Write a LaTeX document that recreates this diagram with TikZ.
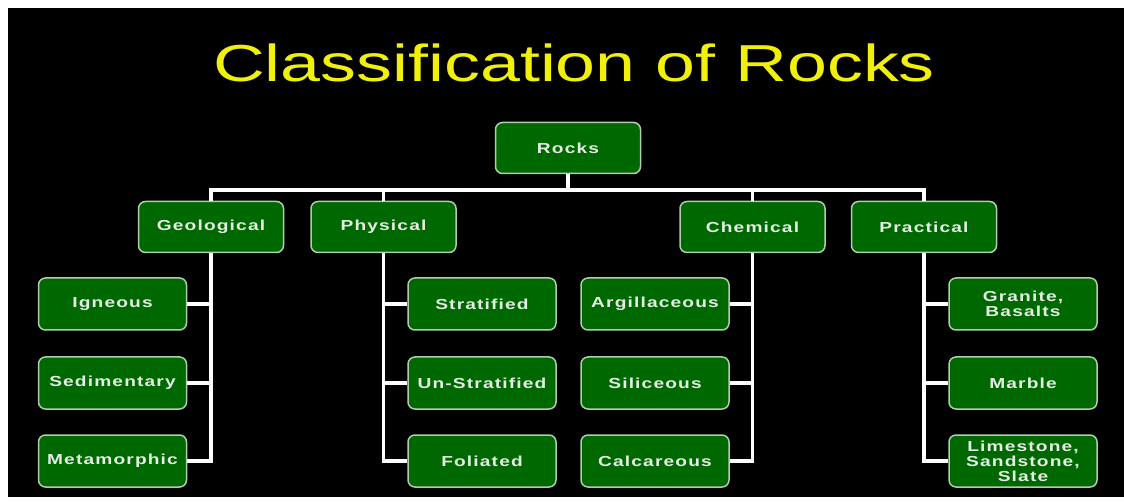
\documentclass[tikz,border=0pt]{standalone}
\usepackage{fontspec}
\setmainfont{Liberation Sans}
\newfontfamily\titlefont[FakeStretch=1.38]{Liberation Sans}
\newfontfamily\boxfont[FakeStretch=1.32,LetterSpace=8]{Liberation Sans}
\definecolor{boxgreen}{RGB}{0,104,0}
\definecolor{boxedge}{RGB}{175,205,175}
\definecolor{boxtext}{RGB}{228,236,228}
\definecolor{titleyellow}{RGB}{240,240,10}
\tikzset{
  rockbox/.style={draw=boxedge, line width=1.5pt, fill=boxgreen, rounded corners=7pt,
    minimum width=145pt, minimum height=51pt, inner sep=1pt, align=center,
    text=boxtext, font=\boxfont\bfseries\fontsize{14.5}{15}\selectfont},
  leafbox/.style={rockbox, minimum width=148pt, minimum height=52pt},
  link/.style={draw=white, line width=3.5pt}
}
\begin{document}
\begin{tikzpicture}[x=1pt,y=-1pt]
\fill[white] (0,0) rectangle (1124,502);
\fill[black] (8,8) rectangle (1124,497);
\useasboundingbox (0,0) rectangle (1124,502);

\node[anchor=base, text=titleyellow, font=\titlefont\fontsize{52}{60}\selectfont, inner sep=0pt] (title) at (574,82) {Classification of Rocks};

\node[rockbox] (rocks) at (568,148) {Rocks};
\coordinate (bus) at (568,190);

\node[rockbox] (geo) at (211,227) {Geological};
\node[rockbox] (phy) at (383.5,227) {Physical};
\node[rockbox] (che) at (752.5,227) {Chemical};
\node[rockbox] (pra) at (924,227) {Practical};

\node[leafbox] (ign) at (112.5,304) {Igneous};
\node[leafbox] (sed) at (112.5,383) {Sedimentary};
\node[leafbox] (met) at (112.5,461) {Metamorphic};

\node[leafbox] (str) at (482,304) {Stratified};
\node[leafbox] (uns) at (482,383) {Un-Stratified};
\node[leafbox] (fol) at (482,461) {Foliated};

\node[leafbox] (arg) at (655,304) {Argillaceous};
\node[leafbox] (sil) at (655,383) {Siliceous};
\node[leafbox] (cal) at (655,461) {Calcareous};

\node[leafbox] (gra) at (1023,304) {Granite,\\Basalts};
\node[leafbox] (mar) at (1023,383) {Marble};
\node[leafbox] (lim) at (1023,461) {Limestone,\\Sandstone,\\Slate};

\path[link] (rocks.south) -- (bus);
\path[link] (bus) -| (geo.north);
\path[link] (bus) -| (phy.north);
\path[link] (bus) -| (che.north);
\path[link] (bus) -| (pra.north);

\path[link] (geo.south) |- (ign.east);
\path[link] (geo.south) |- (sed.east);
\path[link] (geo.south) |- (met.east);
\path[link] (phy.south) |- (str.west);
\path[link] (phy.south) |- (uns.west);
\path[link] (phy.south) |- (fol.west);
\path[link] (che.south) |- (arg.east);
\path[link] (che.south) |- (sil.east);
\path[link] (che.south) |- (cal.east);
\path[link] (pra.south) |- (gra.west);
\path[link] (pra.south) |- (mar.west);
\path[link] (pra.south) |- (lim.west);
\end{tikzpicture}
\end{document}
